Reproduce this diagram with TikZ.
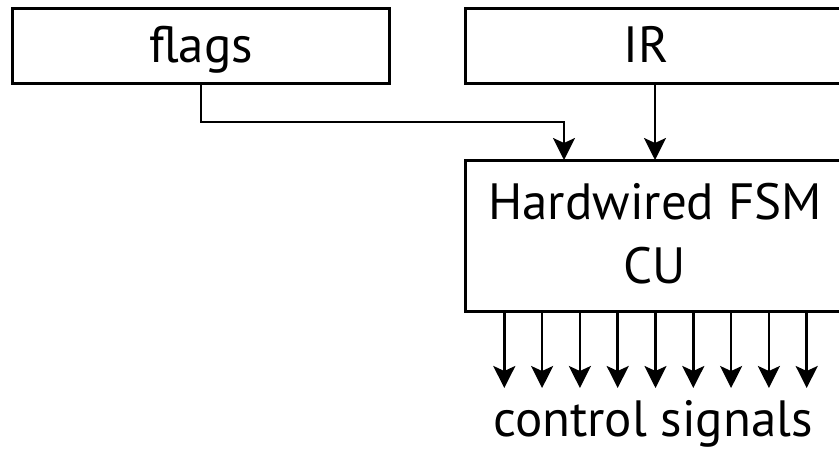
\documentclass[tikz,border=0pt]{standalone}
\usepackage{fontspec}
\setmainfont{PT Sans}
\usetikzlibrary{arrows.meta}
\begin{document}
\begin{tikzpicture}[x=1pt,y=-1pt,
  block/.style={draw, line width=3pt, inner sep=0pt, fill=white},
  lab/.style={anchor=base, inner sep=0pt, font=\fontsize{51}{64}\selectfont},
  wire/.style={line width=2.5pt, -{Stealth[length=22pt,width=22pt,inset=5pt]}}]
  \useasboundingbox (0,0) rectangle (839,451);
  \clip (0,0) rectangle (839,451);

  % register boxes
  \node[block, minimum width=377pt, minimum height=74.5pt] (flags) at (201,46) {};
  \node[block, minimum width=380pt, minimum height=74.5pt] (ir) at (655,46) {};
  \node[lab] (flagsT) at (201,62) {flags};
  \node[lab] (irT) at (646,62) {IR};

  % control unit
  \node[block, minimum width=380pt, minimum height=151pt] (fsm) at (655,235.5) {};
  \node[lab] (fsmA) at (655,219) {Hardwired FSM};
  \node[lab] (fsmB) at (655,283) {CU};

  % inputs to the control unit
  \coordinate (fin) at (564,160);
  \coordinate (iin) at (655,160);
  \draw[wire] (flags.south) |- ([yshift=38pt]fin) -- (fin);
  \draw[wire] (ir.south -| iin) -- (iin);

  % control signal outputs
  \foreach \k in {0,...,8} {
    \coordinate (o\k) at ({504.3+37.8*\k},311);
    \coordinate (e\k) at ({504.3+37.8*\k},388);
    \draw[wire] (o\k) -- (e\k);
  }
  \node[lab] (sig) at (653,436) {control signals};
\end{tikzpicture}
\end{document}
